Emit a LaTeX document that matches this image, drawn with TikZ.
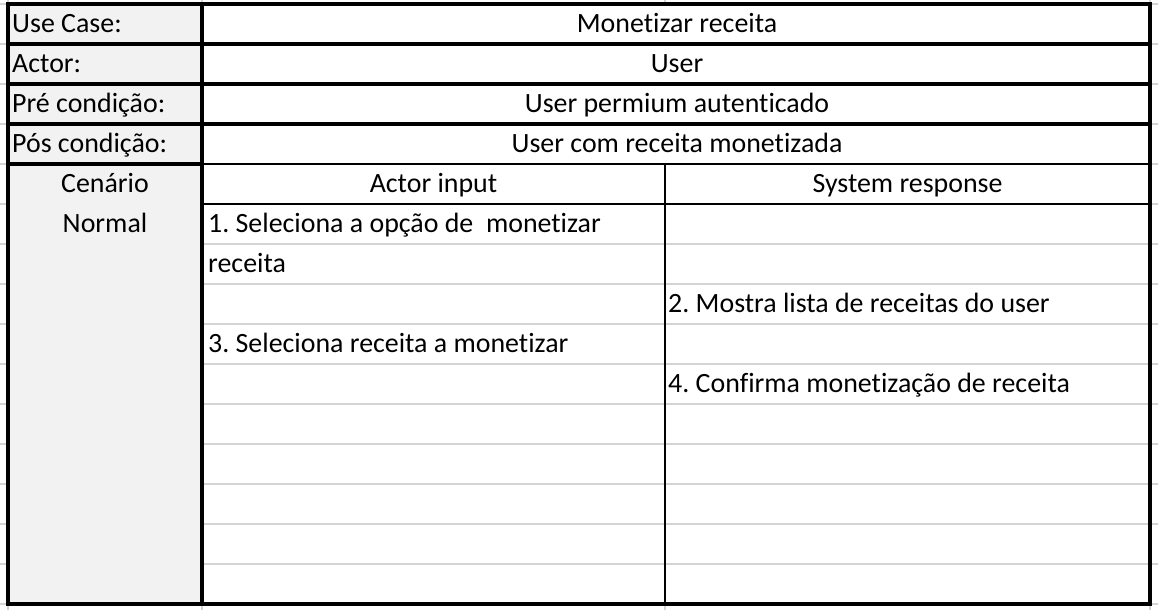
\documentclass[tikz,border=0pt]{standalone}
\usepackage{fontspec}
\setmainfont{Carlito}[Ligatures={NoCommon}]
\frenchspacing
\definecolor{cellgray}{HTML}{F2F2F2}
\definecolor{gridgray}{HTML}{D4D4D4}
\begin{document}
\begin{tikzpicture}[x=1pt,y=-1pt,
  thickline/.style={line width=4pt,black},
  thinline/.style={line width=1.8pt,black},
  gridline/.style={line width=1.5pt,gridgray},
  txt/.style={inner sep=0pt,font=\fontsize{27.9}{33}\selectfont\frenchspacing},
  lefttxt/.style={txt,anchor=base west},
  midtxt/.style={txt,anchor=base}]
\useasboundingbox (0,0) rectangle (1158,610);
\fill[white] (0,0) rectangle (1158,610);
% spreadsheet grid stubs outside the table
\foreach \y in {4,44,...,604} {
  \draw[gridline] (0,\y) -- (8,\y);
  \draw[gridline] (1150,\y) -- (1158,\y);
}
\foreach \x in {8,202,665,1150} {
  \draw[gridline] (\x,0) -- (\x,4);
  \draw[gridline] (\x,604) -- (\x,610);
}
% gray first column
\fill[cellgray] (8,4) rectangle (202,604);
% inner gray lines
\foreach \y in {244,284,...,564} {
  \draw[gridline] (202,\y) -- (1150,\y);
}
% thin black lines
\draw[thinline] (202,164) -- (1150,164);
\draw[thinline] (202,204) -- (1150,204);
\draw[thinline] (665,164) -- (665,604);
% thick black lines
\draw[thickline] (8,164) -- (202,164);
\foreach \y in {44,84,124} {
  \draw[thickline] (8,\y) -- (1150,\y);
}
\draw[thickline] (202,4) -- (202,604);
\draw[thickline] (8,4) rectangle (1150,604);
% texts
\node[lefttxt] (l1) at (12,32.5) {Use Case:};
\node[lefttxt] (l2) at (12,72.5) {Actor:};
\node[lefttxt] (l3) at (12,112.5) {Pré condição:};
\node[lefttxt] (l4) at (12,152.5) {Pós condição:};
\node[midtxt] (v1) at (677,32.5) {Monetizar receita};
\node[midtxt] (v2) at (677,72.5) {User};
\node[midtxt] (v3) at (677,112.5) {User permium autenticado};
\node[midtxt] (v4) at (677,152.5) {User com receita monetizada};
\node[midtxt] (c1) at (105,192.5) {Cenário};
\node[midtxt] (c2) at (105,232.5) {Normal};
\node[midtxt] (h1) at (433.5,192.5) {Actor input};
\node[midtxt] (h2) at (907.5,192.5) {System response};
\node[lefttxt] (a1) at (208,232.5) {1. Seleciona a opção de\ \ monetizar};
\node[lefttxt] (a1b) at (208,272.5) {receita};
\node[lefttxt] (s2) at (668,312.5) {2. Mostra lista de receitas do user};
\node[lefttxt] (a3) at (208,352.5) {3. Seleciona receita a monetizar};
\node[lefttxt] (s4) at (668,392.5) {4. Confirma monetização de receita};
\end{tikzpicture}
\end{document}
